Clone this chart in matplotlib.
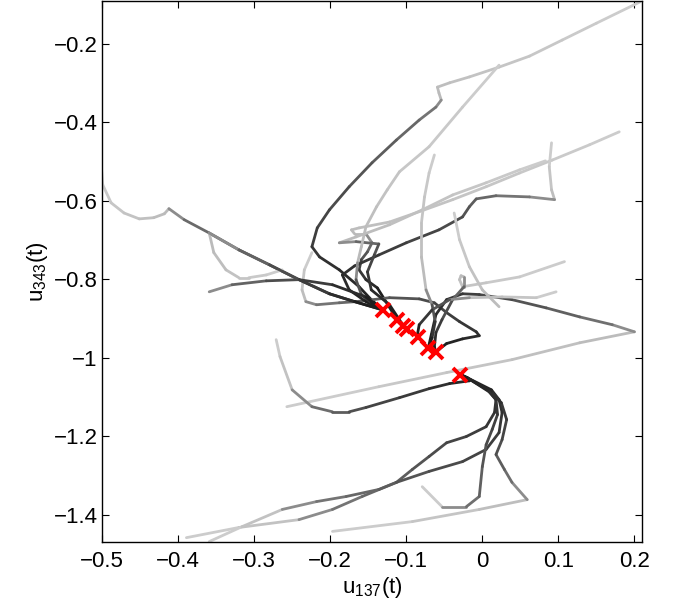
import numpy as np
import matplotlib
matplotlib.use("Agg")
import matplotlib.pyplot as plt
from matplotlib.collections import LineCollection

plt.rcParams['font.family'] = ['Liberation Sans', 'DejaVu Sans']

# trajectories in (u137, u343) space
t1_x = [-0.501, -0.499, -0.488, -0.471, -0.451, -0.432, -0.418, -0.412, -0.392, -0.359,
        -0.320, -0.280, -0.241, -0.201, -0.168, -0.131]
t1_y = [-0.508, -0.559, -0.605, -0.631, -0.646, -0.643, -0.633, -0.620, -0.648, -0.682,
        -0.725, -0.763, -0.801, -0.837, -0.857, -0.878]

t2_x = [0.207, 0.150, 0.105, 0.062, 0.022, -0.017, -0.043, -0.059, -0.057, -0.054, -0.061,
        -0.083, -0.113, -0.145, -0.175, -0.201, -0.217, -0.224, -0.214, -0.188, -0.162,
        -0.146, -0.131]
t2_y = [-0.093, -0.147, -0.190, -0.231, -0.259, -0.284, -0.299, -0.310, -0.325, -0.343,
        -0.361, -0.394, -0.445, -0.503, -0.564, -0.623, -0.669, -0.717, -0.743, -0.776,
        -0.819, -0.852, -0.878]

t3_x = [-0.359, -0.329, -0.284, -0.241, -0.197, -0.153, -0.131]
t3_y = [-0.832, -0.814, -0.804, -0.801, -0.814, -0.845, -0.878]

t4_x = [-0.263, -0.284, -0.307, -0.320, -0.337, -0.353, -0.359, -0.320, -0.280, -0.241,
        -0.201, -0.168, -0.131]
t4_y = [-0.776, -0.789, -0.796, -0.796, -0.776, -0.732, -0.682, -0.725, -0.763, -0.801,
        -0.837, -0.857, -0.878]

t5_x = [0.022, -0.026, -0.070, -0.109, -0.125, -0.139, -0.153, -0.159, -0.164, -0.166,
        -0.159, -0.146, -0.131]
t5_y = [-0.254, -0.361, -0.462, -0.526, -0.572, -0.615, -0.666, -0.717, -0.758, -0.801,
        -0.839, -0.860, -0.878]

t6_x = [-0.224, -0.234, -0.237, -0.232, -0.218, -0.188, -0.166, -0.122, -0.083, -0.063,
        -0.047, -0.030, -0.008, -0.004, -0.026, -0.047, -0.061]
t6_y = [-0.732, -0.776, -0.827, -0.857, -0.865, -0.860, -0.857, -0.847, -0.850, -0.860,
        -0.885, -0.908, -0.934, -0.944, -0.952, -0.964, -0.985]

t7_x = [-0.063, -0.070, -0.076, -0.080, -0.080, -0.074, -0.066, -0.062, -0.066, -0.071]
t7_y = [-0.483, -0.529, -0.590, -0.656, -0.743, -0.827, -0.865, -0.908, -0.949, -0.975]

t8_x = [0.180, 0.141, 0.092, 0.049, 0.005, -0.039, -0.079, -0.122, -0.162, -0.172, -0.168,
        -0.153, -0.145, -0.151, -0.159, -0.162, -0.153, -0.138, -0.112]
t8_y = [-0.424, -0.457, -0.496, -0.529, -0.564, -0.597, -0.625, -0.654, -0.669, -0.674,
        -0.684, -0.684, -0.707, -0.730, -0.750, -0.776, -0.801, -0.822, -0.903]

t9_x = [0.083, 0.049, 0.005, -0.039, -0.079, -0.122, -0.166, -0.188, -0.166, -0.136,
        -0.142, -0.151, -0.146, -0.122, -0.104]
t9_y = [-0.498, -0.521, -0.554, -0.585, -0.623, -0.661, -0.692, -0.707, -0.704, -0.710,
        -0.738, -0.781, -0.827, -0.865, -0.918]

t10_x = [0.091, 0.088, 0.091, 0.095, 0.062, 0.018, -0.008, -0.017, -0.026, -0.057, -0.100,
         -0.136, -0.168, -0.184, -0.175, -0.153, -0.131]
t10_y = [-0.452, -0.513, -0.572, -0.597, -0.590, -0.587, -0.595, -0.615, -0.641, -0.674,
         -0.707, -0.738, -0.766, -0.789, -0.827, -0.857, -0.878]

t11_x = [0.108, 0.049, 0.005, -0.026, -0.030, -0.028, -0.024, -0.024, -0.039, -0.053,
         -0.061, -0.063, -0.061]
t11_y = [-0.755, -0.794, -0.809, -0.819, -0.801, -0.791, -0.794, -0.819, -0.852, -0.903,
         -0.936, -0.972, -0.987]

t12_x = [0.097, 0.071, 0.026, -0.017, -0.043, -0.066, -0.083, -0.086]
t12_y = [-0.832, -0.847, -0.845, -0.847, -0.852, -0.878, -0.916, -0.949]

t13_x = [-0.037, -0.030, -0.017, 0.000, 0.022]
t13_y = [-0.631, -0.699, -0.768, -0.827, -0.870]

t14_x = [-0.257, -0.136, -0.047, 0.039, 0.128, 0.200, 0.171, 0.128, 0.084, 0.039, -0.004,
         -0.026, -0.047, -0.061, -0.067, -0.071]
t14_y = [-1.125, -1.074, -1.038, -1.005, -0.962, -0.934, -0.916, -0.896, -0.873, -0.852,
         -0.839, -0.837, -0.852, -0.890, -0.941, -0.975]

t15_x = [-0.271, -0.266, -0.250, -0.224, -0.197, -0.175, -0.153, -0.109, -0.070, -0.043,
         -0.017, -0.029]
t15_y = [-0.954, -0.997, -1.082, -1.125, -1.138, -1.138, -1.127, -1.102, -1.079, -1.066,
         -1.059, -1.046]

b1_x = [-0.389, -0.320, -0.241, -0.197, -0.158, -0.113, -0.092, -0.070, -0.047, -0.021,
        0.005, 0.016, 0.018, 0.009, -0.020, -0.029]
b1_y = [-1.459, -1.433, -1.413, -1.387, -1.354, -1.318, -1.285, -1.252, -1.217, -1.201,
        -1.176, -1.140, -1.107, -1.087, -1.051, -1.043]

b2_x = [-0.359, -0.316, -0.263, -0.218, -0.179, -0.136, -0.113, -0.070, -0.026, 0.005,
        0.022, 0.026, 0.022, 0.012, -0.020, -0.029]
b2_y = [-1.469, -1.431, -1.387, -1.367, -1.354, -1.336, -1.318, -1.290, -1.265, -1.234,
        -1.191, -1.140, -1.107, -1.082, -1.051, -1.043]

b3_x = [-0.079, -0.053, -0.021, -0.004, 0.000, 0.005, 0.013, 0.020, 0.018, 0.007, -0.020, -0.029]
b3_y = [-1.329, -1.380, -1.380, -1.354, -1.278, -1.222, -1.183, -1.145, -1.107, -1.082,
        -1.051, -1.043]

b4_x = [-0.197, -0.092, -0.004, 0.059, 0.039, 0.029, 0.018, 0.026, 0.032, 0.025, 0.012,
        -0.020, -0.029]
b4_y = [-1.443, -1.418, -1.387, -1.362, -1.318, -1.285, -1.247, -1.209, -1.158, -1.115,
        -1.087, -1.051, -1.043]

# end points (red crosses)
end_x = [-0.131, -0.112, -0.104, -0.099, -0.085, -0.071, -0.061, -0.029]
end_y = [-0.878, -0.903, -0.918, -0.926, -0.948, -0.975, -0.986, -1.043]

# (x, y, index where the grey starts to darken)
trajs = [
    (t1_x, t1_y, 7), (t2_x, t2_y, 9), (t3_x, t3_y, 0), (t4_x, t4_y, 6),
    (t5_x, t5_y, 8), (t6_x, t6_y, 3), (t7_x, t7_y, 5), (t8_x, t8_y, 11),
    (t9_x, t9_y, 7), (t10_x, t10_y, 3), (t11_x, t11_y, 6), (t12_x, t12_y, 3),
    (t13_x, t13_y, 4), (t14_x, t14_y, 5), (t15_x, t15_y, 2),
    (b1_x, b1_y, 2), (b2_x, b2_y, 2), (b3_x, b3_y, 1), (b4_x, b4_y, 3),
]


def shades(n, knee):
    """light grey before the knee, then darkening towards the end"""
    g = np.zeros(n - 1)
    for i in range(n - 1):
        if i < knee:
            g[i] = 0.80 - 0.08 * i / max(knee, 1)
        else:
            f = (i - knee) / max(n - 2 - knee, 1)
            g[i] = 0.55 - 0.43 * f ** 0.6
    return g


fig = plt.figure(figsize=(6.78, 6.07), dpi=100)
ax = fig.add_axes([0.1504, 0.1071, 0.7966, 0.8915])

# light ones first so the dark ends sit on top
order = sorted(range(len(trajs)), key=lambda k: -len(trajs[k][0]))
for k in order:
    xs, ys, knee = trajs[k]
    pts = np.column_stack([xs, ys])
    segs = np.stack([pts[:-1], pts[1:]], axis=1)
    g = shades(len(xs), knee)
    lc = LineCollection(segs, colors=[(v, v, v) for v in g], linewidths=2.0,
                        capstyle='round', joinstyle='round')
    ax.add_collection(lc)

ax.plot(end_x, end_y, 'x', color='red', ms=9.5, mew=2.8, zorder=5)

ax.set_xlim(-0.5, 0.21)
ax.set_ylim(-1.47, -0.09)
ax.set_xticks([-0.5, -0.4, -0.3, -0.2, -0.1, 0, 0.1, 0.2])
ax.set_xticklabels(['\u22120.5', '\u22120.4', '\u22120.3', '\u22120.2', '\u22120.1', '0', '0.1', '0.2'])
ax.set_yticks([-1.4, -1.2, -1, -0.8, -0.6, -0.4, -0.2])
ax.set_yticklabels(['\u22121.4', '\u22121.2', '\u22121', '\u22120.8', '\u22120.6', '\u22120.4', '\u22120.2'])
ax.tick_params(direction='in', length=5, width=0.8, top=True, right=True, labelsize=16)
ax.tick_params(axis='x', pad=6.5)
ax.tick_params(axis='y', pad=3)
for s in ax.spines.values():
    s.set_linewidth(1.0)

ax.set_xlabel(r'$\mathregular{u_{137}(t)}$', fontsize=16, labelpad=2)
ax.set_ylabel(r'$\mathregular{u_{343}(t)}$', fontsize=16, labelpad=3)

fig.savefig('out.png', dpi=100)
